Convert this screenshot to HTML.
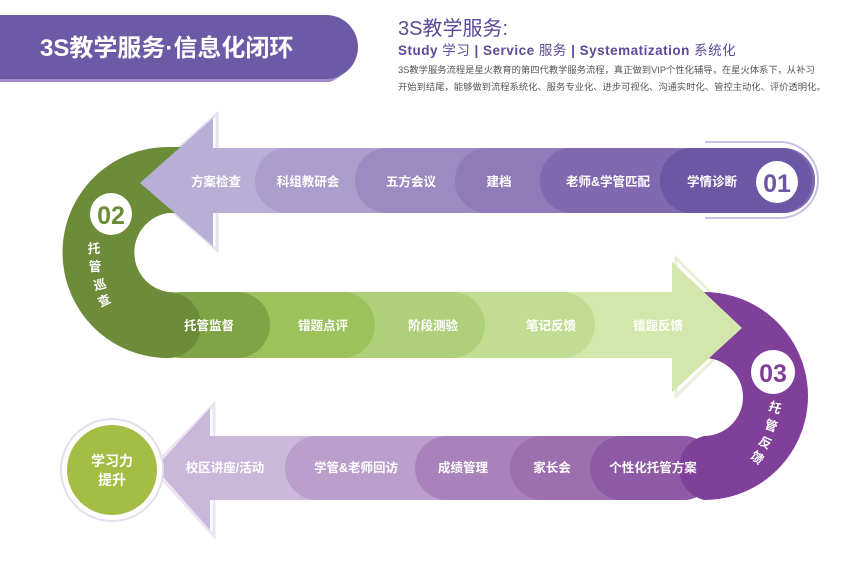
<!DOCTYPE html>
<html><head><meta charset="utf-8"><style>
body{margin:0;background:#fff;}
svg text{font-family:"Liberation Sans","Noto Sans CJK SC",sans-serif;}
</style></head><body>
<svg width="850" height="560" viewBox="0 0 850 560" xmlns="http://www.w3.org/2000/svg">
<!-- title bar -->
<path d="M0,18 H330 A34,34 0 0 1 330,82 H0 Z" fill="#a58bc9"/>
<path d="M0,15 H326 A32,32 0 0 1 326,79 H0 Z" fill="#6c5aa6"/>
<text x="40" y="56" font-size="24" font-weight="bold" fill="#fff">3S教学服务·信息化闭环</text>
<text x="398" y="35" font-size="20" fill="#5c4a9a">3S教学服务:</text>
<text x="398" y="55" font-size="13.5" font-weight="bold" fill="#5c4a9a" letter-spacing="0.5">Study <tspan font-weight="normal">学习</tspan>  |  Service <tspan font-weight="normal">服务</tspan>  |  Systematization <tspan font-weight="normal">系统化</tspan></text>
<text x="398" y="73" font-size="9.3" fill="#555">3S教学服务流程是星火教育的第四代教学服务流程，真正做到VIP个性化辅导，在星火体系下，从补习</text>
<text x="398" y="90" font-size="9.3" fill="#555">开始到结尾，能够做到流程系统化、服务专业化、进步可视化、沟通实时化、管控主动化、评价透明化。</text>

<!-- band1 -->
<path d="M705,142 H780 A38,38 0 0 1 780,218 H705" fill="none" stroke="#c9c0e3" stroke-width="2"/>
<polygon points="217,148 217,114 140,183 217,250 217,213" fill="none" stroke="#e6e0f0" stroke-width="3"/>
<polygon points="213,148 213,118 140,183 213,246 213,213 400,213 400,148" fill="#b9afd6"/>
<rect x="255" y="148" width="560" height="65" rx="32" fill="#ab9dcc"/>
<rect x="355" y="148" width="460" height="65" rx="32" fill="#9c8ac2"/>
<rect x="455" y="148" width="360" height="65" rx="32" fill="#8f7bb8"/>
<rect x="540" y="148" width="275" height="65" rx="32" fill="#8069ae"/>
<rect x="660" y="148" width="152" height="65" rx="32" fill="#6b57a4"/>

<!-- band2 green -->
<polygon points="676,292 676,258 746,328 676,396 676,358" fill="none" stroke="#e8f1d8" stroke-width="3"/>
<polygon points="160,292 672,292 672,262 742,328 672,392 672,358 160,358" fill="#d3e6ab"/>
<rect x="160" y="292" width="435" height="66" rx="33" fill="#c2dd93"/>
<rect x="160" y="292" width="325" height="66" rx="33" fill="#afd07a"/>
<rect x="160" y="292" width="215" height="66" rx="33" fill="#9cc35b"/>
<rect x="150" y="292" width="120" height="66" rx="33" fill="#7fa446"/>
<path d="M168,147 A105,105 0 0 0 168,358 A33,33 0 0 0 168,292 A40,40 0 0 1 168,213 L205,213 L205,147 Z" fill="#6c8c39"/>
<polygon points="213,148 213,118 140,183 213,246 213,213" fill="#b9afd6"/>

<!-- band3 purple -->
<polygon points="214,436 214,404 152,468 214,536 214,500" fill="none" stroke="#ece4f2" stroke-width="3"/>
<polygon points="210,436 210,408 155,468 210,530 210,500 400,500 400,436" fill="#cab8db"/>
<rect x="285" y="436" width="430" height="64" rx="32" fill="#bb9ecb"/>
<rect x="415" y="436" width="300" height="64" rx="32" fill="#aa82bb"/>
<rect x="510" y="436" width="205" height="64" rx="32" fill="#9c6fae"/>
<rect x="590" y="436" width="125" height="64" rx="32" fill="#8e5aa5"/>
<path d="M704,292 A104,104 0 0 1 704,500 A33,33 0 0 1 704,436 A39,39 0 0 0 704,358 L672,358 L672,292 Z" fill="#80409a"/>
<polygon points="672,292 672,262 742,328 672,392 672,358" fill="#d3e6ab"/>

<!-- labels -->
<g font-size="12.5" font-weight="bold" fill="#fff" text-anchor="middle">
<text x="216" y="186">方案检查</text><text x="308" y="186">科组教研会</text><text x="411" y="186">五方会议</text>
<text x="499" y="186">建档</text><text x="608" y="186">老师&amp;学管匹配</text><text x="712" y="186">学情诊断</text>
<text x="209" y="330">托管监督</text><text x="323" y="330">错题点评</text><text x="433" y="330">阶段测验</text>
<text x="551" y="330">笔记反馈</text><text x="658" y="330">错题反馈</text>
<text x="225" y="472">校区讲座/活动</text><text x="356" y="472">学管&amp;老师回访</text><text x="463" y="472">成绩管理</text>
<text x="552" y="472">家长会</text><text x="653" y="472">个性化托管方案</text>
<text x="94" y="253">托</text><text x="95" y="271">管</text>
<text x="100" y="289" transform="rotate(-15 100 285)">巡</text><text x="104" y="305" transform="rotate(-25 104 300)">查</text>
<text x="775" y="412" transform="rotate(20 775 408)">托</text><text x="771" y="430" transform="rotate(20 771 426)">管</text>
<text x="765" y="447" transform="rotate(30 765 443)">反</text><text x="757" y="462" transform="rotate(40 757 458)">馈</text>
</g>

<circle cx="777" cy="182" r="21" fill="#fff"/>
<text x="777" y="192" font-size="25" font-weight="bold" fill="#6b57a4" text-anchor="middle">01</text>
<circle cx="111" cy="214" r="21" fill="#fff"/>
<text x="111" y="224" font-size="25" font-weight="bold" fill="#6c8c39" text-anchor="middle">02</text>
<circle cx="773" cy="372" r="22" fill="#fff"/>
<text x="773" y="382" font-size="25" font-weight="bold" fill="#80409a" text-anchor="middle">03</text>

<circle cx="112" cy="470" r="51" fill="#fff" stroke="#e6dcef" stroke-width="2"/>
<circle cx="112" cy="470" r="45" fill="#a4bd45"/>
<g font-size="14" font-weight="bold" fill="#fff" text-anchor="middle">
<text x="112" y="466">学习力</text><text x="112" y="485">提升</text></g>
</svg>
</body></html>
